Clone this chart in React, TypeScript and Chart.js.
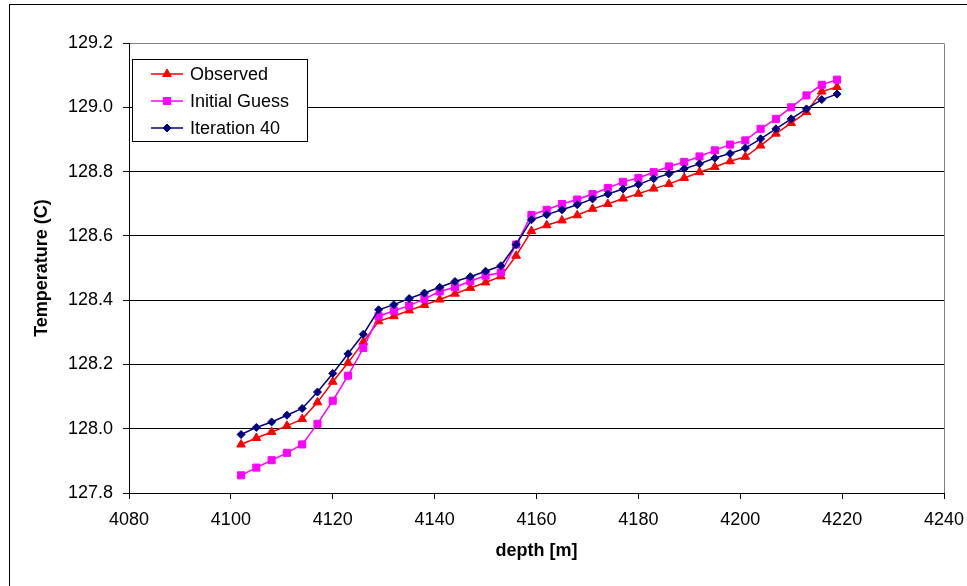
import React, { useEffect, useRef } from "react";
import { Chart, registerables } from "chart.js";

Chart.register(...registerables);

// Depth of each sample (m)
const depths = [
  4102, 4105, 4108, 4111, 4114, 4117, 4120, 4123, 4126, 4129,
  4132, 4135, 4138, 4141, 4144, 4147, 4150, 4153, 4156, 4159,
  4162, 4165, 4168, 4171, 4174, 4177, 4180, 4183, 4186, 4189,
  4192, 4195, 4198, 4201, 4204, 4207, 4210, 4213, 4216, 4219,
];

// Temperatures (C)
const observed = [
  127.951, 127.971, 127.990, 128.009, 128.030, 128.082, 128.146, 128.205, 128.270, 128.334,
  128.350, 128.368, 128.385, 128.402, 128.420, 128.438, 128.455, 128.474, 128.538, 128.615,
  128.633, 128.648, 128.664, 128.684, 128.699, 128.716, 128.731, 128.747, 128.761, 128.780,
  128.798, 128.814, 128.832, 128.846, 128.881, 128.918, 128.951, 128.985, 129.049, 129.063,
];

const initialGuess = [
  127.855, 127.879, 127.902, 127.925, 127.951, 128.015, 128.087, 128.165, 128.251, 128.350,
  128.367, 128.383, 128.404, 128.427, 128.440, 128.459, 128.476, 128.486, 128.573, 128.665,
  128.681, 128.699, 128.713, 128.730, 128.749, 128.768, 128.780, 128.798, 128.816, 128.830,
  128.847, 128.866, 128.884, 128.897, 128.933, 128.964, 129.000, 129.037, 129.070, 129.086,
];

const iteration40 = [
  127.982, 128.004, 128.021, 128.042, 128.063, 128.114, 128.172, 128.233, 128.294, 128.370,
  128.386, 128.405, 128.422, 128.440, 128.458, 128.473, 128.490, 128.507, 128.573, 128.650,
  128.666, 128.681, 128.697, 128.715, 128.730, 128.746, 128.760, 128.778, 128.793, 128.809,
  128.824, 128.842, 128.856, 128.873, 128.902, 128.933, 128.964, 128.995, 129.024, 129.041,
];

const seriesNames = ["Observed", "Initial Guess", "Iteration 40"];

const FONT = "'Liberation Sans', Arial, Helvetica, sans-serif";

const toPoints = (ys: number[]) => depths.map((d, i) => ({ x: d, y: ys[i] }));

// Small marker glyph for the legend rows
function legendMarker(ctx: CanvasRenderingContext2D, style: string, r: number, x: number, y: number) {
  ctx.beginPath();
  if (style === "triangle") {
    ctx.moveTo(x, y - r);
    ctx.lineTo(x + r * 0.87, y + r * 0.5);
    ctx.lineTo(x - r * 0.87, y + r * 0.5);
    ctx.closePath();
  } else if (style === "rect") {
    const s = r * Math.SQRT1_2;
    ctx.rect(x - s, y - s, 2 * s, 2 * s);
  } else {
    ctx.moveTo(x, y - r);
    ctx.lineTo(x + r, y);
    ctx.lineTo(x, y + r);
    ctx.lineTo(x - r, y);
    ctx.closePath();
  }
  ctx.fill();
  ctx.stroke();
}

// Outer frame, plot-area outline and the boxed legend
const decorations = {
  id: "decorations",
  beforeDraw(chart: any) {
    const { ctx } = chart;
    ctx.save();
    ctx.fillStyle = "#fff";
    ctx.fillRect(0, 0, chart.width, chart.height);
    ctx.strokeStyle = "#000";
    ctx.lineWidth = 1;
    ctx.strokeRect(9.5, 4.5, chart.width + 20, chart.height + 20);
    ctx.restore();
  },
  beforeDatasetsDraw(chart: any) {
    const { ctx, chartArea } = chart;
    ctx.save();
    ctx.strokeStyle = "#808080";
    ctx.lineWidth = 1;
    const r = Math.round(chartArea.right) + 0.5;
    ctx.beginPath();
    ctx.moveTo(r, Math.round(chartArea.top) + 0.5);
    ctx.lineTo(r, Math.round(chartArea.bottom));
    ctx.stroke();
    ctx.restore();
  },
  afterDraw(chart: any) {
    const { ctx } = chart;
    const x0 = 132, y0 = 59, w = 175, h = 82;
    ctx.save();
    ctx.fillStyle = "#fff";
    ctx.fillRect(x0, y0, w, h);
    ctx.strokeStyle = "#000";
    ctx.lineWidth = 1;
    ctx.strokeRect(x0 + 0.5, y0 + 0.5, w, h);
    const rows = [74, 101, 128];
    chart.data.datasets.forEach((ds: any, i: number) => {
      const y = rows[i];
      ctx.strokeStyle = ds.borderColor;
      ctx.fillStyle = ds.borderColor;
      ctx.lineWidth = ds.borderWidth;
      ctx.beginPath();
      ctx.moveTo(151, y);
      ctx.lineTo(183, y);
      ctx.stroke();
      ctx.lineWidth = 1;
      legendMarker(ctx, ds.pointStyle, ds.pointRadius, 167, y);
      ctx.fillStyle = "#000";
      ctx.font = `18px ${FONT}`;
      ctx.textBaseline = "middle";
      ctx.textAlign = "left";
      ctx.fillText(ds.label, 190, y + 1);
    });
    ctx.restore();
  },
};

export default function App() {
  const canvasRef = useRef<HTMLCanvasElement | null>(null);

  useEffect(() => {
    const canvas = canvasRef.current;
    if (!canvas) return;

    const mk = (label: string, ys: number[], color: string, style: string, radius: number, order: number) => ({
      label,
      data: toPoints(ys),
      borderColor: color,
      backgroundColor: color,
      pointBackgroundColor: color,
      pointBorderColor: color,
      borderWidth: 1.5,
      pointStyle: style,
      pointRadius: radius,
      pointBorderWidth: 1,
      tension: 0,
      order,
    });

    const chart = new Chart(canvas, {
      type: "line",
      data: {
        datasets: [
          mk(seriesNames[0], observed, "#ff0000", "triangle", 5, 3),
          mk(seriesNames[1], initialGuess, "#ff00ff", "rect", 5, 2),
          mk(seriesNames[2], iteration40, "#000080", "rectRot", 4, 1),
        ] as any,
      },
      options: {
        responsive: false,
        animation: false,
        events: [],
        layout: { padding: { left: 0, top: 43, right: 23, bottom: 0 } },
        plugins: {
          legend: { display: false },
          tooltip: { enabled: false },
        },
        scales: {
          x: {
            type: "linear",
            min: 4080,
            max: 4240,
            afterFit: (s: any) => {
              s.height = 93;
              s.paddingLeft = 0;
              s.paddingRight = 0;
            },
            ticks: {
              stepSize: 20,
              padding: 10,
              color: "#000",
              font: { family: FONT, size: 18 },
              maxRotation: 0,
              callback: (v: any) => String(Math.round(Number(v))),
            },
            grid: {
              drawOnChartArea: false,
              drawTicks: true,
              tickLength: 6,
              color: "#000",
              tickColor: "#000",
            },
            border: { display: true, color: "#000", width: 1 },
            title: {
              display: true,
              text: "depth [m]",
              color: "#000",
              font: { family: FONT, size: 18, weight: "bold" },
              padding: { top: 0, bottom: 24 },
            },
          },
          y: {
            type: "linear",
            min: 127.8,
            max: 129.2,
            afterFit: (s: any) => {
              s.width = 129;
            },
            ticks: {
              stepSize: 0.2,
              padding: 10,
              color: "#000",
              font: { family: FONT, size: 18 },
              callback: (v: any) => Number(v).toFixed(1),
            },
            grid: {
              drawTicks: true,
              tickLength: 6,
              color: (c: any) => (c.tick && Math.abs(c.tick.value - 129.2) < 1e-6 ? "#808080" : "#000"),
              tickColor: "#000",
            },
            border: { display: true, color: "#000", width: 1 },
            title: {
              display: true,
              text: "Temperature (C)",
              color: "#000",
              font: { family: FONT, size: 18, weight: "bold" },
              padding: { top: 31, bottom: 0 },
            },
          },
        },
      },
      plugins: [decorations],
    });

    return () => chart.destroy();
  }, []);

  return (
    <div style={{ position: "fixed", left: 0, top: 0, width: 967, height: 586, background: "#fff" }}>
      <canvas ref={canvasRef} width={967} height={586} style={{ display: "block" }} />
    </div>
  );
}
